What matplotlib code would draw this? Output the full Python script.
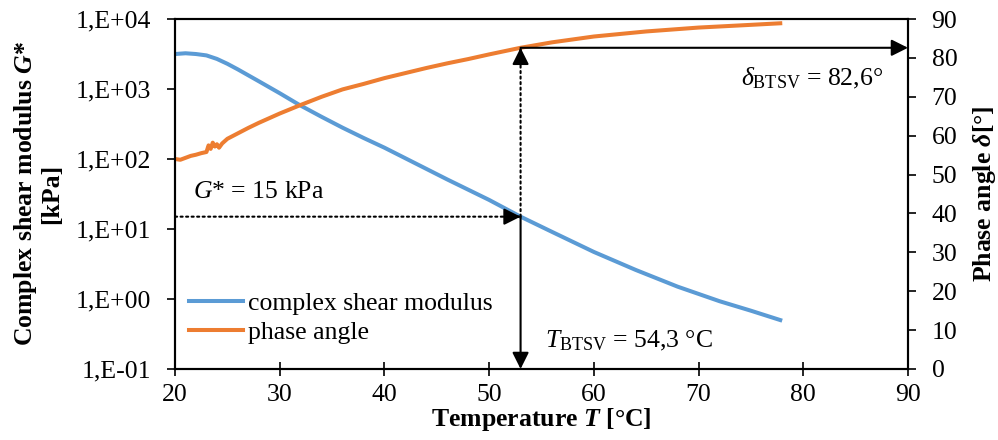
import numpy as np
import matplotlib
matplotlib.use("Agg")
import matplotlib.pyplot as plt

plt.rcParams["font.family"] = ["Liberation Serif", "DejaVu Serif"]
plt.rcParams["mathtext.fontset"] = "custom"
plt.rcParams["mathtext.rm"] = "Liberation Serif"
plt.rcParams["mathtext.it"] = "Liberation Serif:italic"
plt.rcParams["mathtext.bf"] = "Liberation Serif:bold"
plt.rcParams["mathtext.bfit"] = "Liberation Serif:italic:bold"

# complex shear modulus G* [kPa] vs temperature
temp_g = [20, 21, 22, 23, 24, 25, 26, 28, 30, 31.9, 34, 36, 38, 40, 43, 46, 50, 53, 56, 60, 64, 68, 72, 75, 77.8]
g_star = [3160, 3240, 3160, 3020, 2690, 2290, 1905, 1290, 870, 590, 400, 280, 200, 145, 86, 51, 26, 15,
          9.1, 4.7, 2.6, 1.5, 0.93, 0.68, 0.50]

# phase angle delta [deg] vs temperature
temp_d = [20, 20.5, 21, 21.5, 22, 22.5, 23.0, 23.2, 23.4, 23.6, 23.8, 24.0, 24.2, 24.5, 25, 26, 27, 28, 30,
          32, 34, 36, 38, 40, 42, 44, 46, 48, 50, 53, 56, 60, 65, 70, 75, 77.8]
delta = [54.0, 53.8, 54.3, 54.8, 55.1, 55.5, 55.8, 57.5, 56.6, 58.2, 57.2, 57.8, 56.9, 58.0, 59.2, 60.6,
         62.0, 63.3, 65.7, 67.9, 70.0, 71.9, 73.3, 74.8, 76.1, 77.4, 78.6, 79.7, 80.9, 82.6, 84.0, 85.5,
         86.8, 87.8, 88.5, 88.9]

# BTSV marker values
t_mark = 53.0
g_mark = 15
d_mark = 82.6

log_ticks = [1e-1, 1e0, 1e1, 1e2, 1e3, 1e4]
log_labels = ["1,E-01", "1,E+00", "1,E+01", "1,E+02", "1,E+03", "1,E+04"]
x_ticks = [20, 30, 40, 50, 60, 70, 80, 90]
d_ticks = [0, 10, 20, 30, 40, 50, 60, 70, 80, 90]

blue = "#5B9BD5"
orange = "#ED7D31"
fs = 18.5

fig = plt.figure(figsize=(9.98, 4.4), dpi=100)
ax = fig.add_axes([0.1754, 0.1614, 0.7344, 0.7954])
ax2 = ax.twinx()

l1, = ax.plot(temp_g, g_star, color=blue, lw=2.9, label="complex shear modulus")
l2, = ax2.plot(temp_d, delta, color=orange, lw=2.9, label="phase angle")

ax.set_yscale("log")
ax.set_ylim(1e-1, 1e4)
ax.set_xlim(20, 90)
ax.set_yticks(log_ticks)
ax.set_yticklabels(log_labels)
ax.yaxis.set_minor_locator(matplotlib.ticker.NullLocator())
ax.set_xticks(x_ticks)
ax2.set_ylim(0, 90)
ax2.set_yticks(d_ticks)

for a in (ax, ax2):
    for s in a.spines.values():
        s.set_linewidth(1.5)
ax.tick_params(axis="y", direction="out", length=6, width=1.2, labelsize=fs, pad=11)
ax.tick_params(axis="x", direction="inout", length=10, width=1.2, labelsize=fs, pad=6)
ax2.tick_params(axis="y", direction="out", length=6, width=1.2, labelsize=fs, pad=11)

ax.set_xlabel(r"Temperature $\mathbfit{T}$ [°C]", fontsize=fs, fontweight="bold", labelpad=0)
ax.set_ylabel("Complex shear modulus $\\mathbfit{G}$*\n[kPa]", fontsize=fs, fontweight="bold",
              linespacing=1.1, labelpad=9)
ax2.set_ylabel(r"Phase angle $\mathbfit{\delta}$[°]", fontsize=fs, fontweight="bold", labelpad=10)

head = "-|>,head_length=0.5,head_width=0.25"
solid = dict(arrowstyle=head, color="black", lw=1.5, mutation_scale=20, shrinkA=0, shrinkB=0)
dotted = dict(arrowstyle="-", color="black", lw=1.5, ls=":", shrinkA=0, shrinkB=0)

# dotted G* = 15 kPa guide with solid head
ax.annotate("", xy=(t_mark, g_mark), xytext=(20, g_mark), arrowprops=dotted)
ax.annotate("", xy=(t_mark, g_mark), xytext=(-12, 0), textcoords="offset points", arrowprops=solid)
# solid arrow down to the temperature axis
ax.annotate("", xy=(t_mark, 1e-1), xytext=(t_mark, g_mark), arrowprops=solid)
# dotted guide up to the phase angle curve with solid head
ax2.annotate("", xy=(t_mark, d_mark), xytext=(t_mark, g_mark), textcoords=ax.transData, arrowprops=dotted)
ax2.annotate("", xy=(t_mark, d_mark), xytext=(0, -12), textcoords="offset points", arrowprops=solid)
# solid arrow to the phase angle axis
ax2.annotate("", xy=(90, d_mark), xytext=(t_mark, d_mark), arrowprops=solid)

ax.text(21.7, 27.7, r"$G$* = 15 kPa", fontsize=fs, va="baseline")
ax2.text(87.6, 73.0, r"$\delta_{\mathrm{BTSV}}$ = 82,6°", fontsize=fs, ha="right", va="baseline")
ax2.text(55.3, 5.6, r"$T_{\mathrm{BTSV}}$ = 54,3 °C", fontsize=fs, va="baseline")

ax2.legend(handles=[l1, l2], loc="upper left", bbox_to_anchor=(0.005, 0.25), frameon=False,
           fontsize=fs, handlelength=2.1, handletextpad=0.2, labelspacing=0.25, borderaxespad=0)

fig.savefig("out.png", dpi=100)
